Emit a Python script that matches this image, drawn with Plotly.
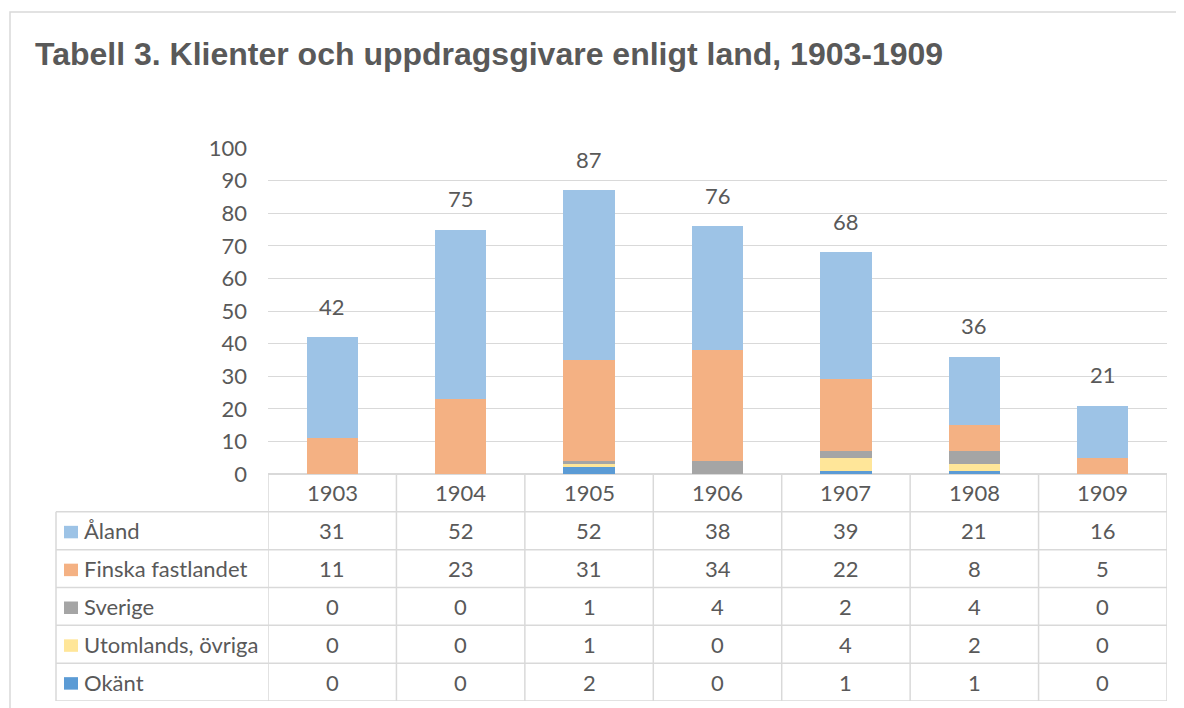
import plotly.graph_objects as go

years = ["1903", "1904", "1905", "1906", "1907", "1908", "1909"]
series_names = ["Åland", "Finska fastlandet", "Sverige", "Utomlands, övriga", "Okänt"]
aland = [31, 52, 52, 38, 39, 21, 16]
finska = [11, 23, 31, 34, 22, 8, 5]
sverige = [0, 0, 1, 4, 2, 4, 0]
utomlands = [0, 0, 1, 0, 4, 2, 0]
okant = [0, 0, 2, 0, 1, 1, 0]
title = "Tabell 3. Klienter och uppdragsgivare enligt land, 1903-1909"

values = [aland, finska, sverige, utomlands, okant]
colors = ["#9DC3E6", "#F4B183", "#A5A5A5", "#FFE699", "#5B9BD5"]
totals = [sum(v[i] for v in values) for i in range(len(years))]

W, H = 1184, 708
OFF = 8  # page body margin
FONT = "Lato"
FS = 22
TXT = "#595959"
GRID = "#D9D9D9"

def px_x(p):
    return (p - OFF) / W

def px_y(p):
    return 1 - (p - OFF) / H

fig = go.Figure()
# stack bottom to top: Okänt, Utomlands, Sverige, Finska, Åland
for name, vals, col in reversed(list(zip(series_names, values, colors))):
    fig.add_trace(go.Bar(x=years, y=vals, name=name, marker=dict(color=col, line=dict(width=0)),
                         showlegend=False, hoverinfo="x+y+name"))

for i, tot in enumerate(totals):
    fig.add_annotation(x=i, y=tot, xref="x", yref="y", text=str(tot), showarrow=False,
                       yshift=31, font=dict(family=FONT, size=FS, color=TXT))

# Table: rows 0 = header, 1..5 = series
n = len(years)
for i, yr in enumerate(years):
    fig.add_annotation(x=i, y=0, xref="x", yref="y2", text=yr, showarrow=False,
                       font=dict(family=FONT, size=FS, color=TXT))
for r, (name, vals, col) in enumerate(zip(series_names, values, colors), start=1):
    for i, v in enumerate(vals):
        fig.add_annotation(x=i, y=r, xref="x", yref="y2", text=str(v), showarrow=False,
                           font=dict(family=FONT, size=FS, color=TXT))
    fig.add_annotation(x=px_x(82), y=r, xref="paper", yref="y2", text=name, showarrow=False,
                       xanchor="left", font=dict(family=FONT, size=FS, color=TXT))
    fig.add_shape(type="rect", xref="paper", yref="y2", x0=px_x(64), x1=px_x(78),
                  y0=r - 0.13, y1=r + 0.20, fillcolor=col, line=dict(width=0))

lw = 1.5
for k in range(n + 1):
    fig.add_shape(type="line", xref="x", yref="y2", x0=k - 0.5, x1=k - 0.5, y0=-0.5, y1=5.5,
                  line=dict(color=GRID, width=lw))
fig.add_shape(type="line", xref="paper", yref="y2", x0=px_x(56), x1=px_x(56), y0=0.5, y1=5.5,
              line=dict(color=GRID, width=lw))
for r in range(1, 7):
    fig.add_shape(type="line", xref="paper", yref="y2", x0=px_x(56), x1=px_x(1167),
                  y0=r - 0.5, y1=r - 0.5, line=dict(color=GRID, width=lw))

# outer frame
fig.add_shape(type="rect", xref="paper", yref="paper", x0=px_x(10), x1=px_x(1220),
              y0=px_y(760), y1=px_y(12), line=dict(color=GRID, width=1.5), fillcolor="rgba(0,0,0,0)")

fig.update_layout(
    width=W, height=H,
    margin=dict(l=0, r=0, t=0, b=0, pad=0, autoexpand=False),
    paper_bgcolor="white", plot_bgcolor="white",
    barmode="stack", bargap=0.6,
    title=dict(text="<b>" + title + "</b>", x=px_x(35), xanchor="left", xref="paper",
               y=px_y(54), yanchor="middle", yref="paper",
               font=dict(family="Liberation Sans", size=32, color=TXT)),
    xaxis=dict(type="category", domain=[px_x(268), px_x(1167)], showticklabels=False, showgrid=False,
               zeroline=False, showline=False, range=[-0.5, n - 0.5], automargin=False),
    yaxis=dict(domain=[px_y(474), px_y(148)], range=[0, 100], dtick=10,
               showgrid=True, gridcolor=GRID, gridwidth=1, zeroline=True, zerolinecolor=GRID,
               zerolinewidth=1.5, showline=False, automargin=False,
               tickfont=dict(family=FONT, size=FS, color=TXT), ticklabelstandoff=20),
    yaxis2=dict(domain=[px_y(701), px_y(474)], range=[5.5, -0.5], anchor="x",
                showticklabels=False, showgrid=False, zeroline=False, showline=False,
                automargin=False),
)

fig.write_html("out.html")
